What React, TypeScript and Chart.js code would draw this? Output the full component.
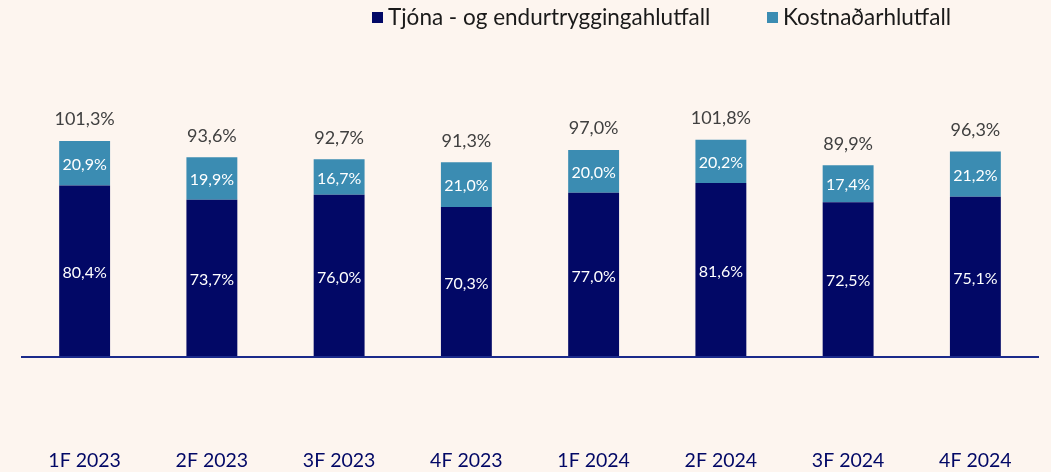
import React, { useEffect, useRef } from "react";
import { Chart, registerables } from "chart.js";

Chart.register(...registerables);

const categories = ["1F 2023", "2F 2023", "3F 2023", "4F 2023", "1F 2024", "2F 2024", "3F 2024", "4F 2024"];
const claimsRatio = [80.4, 73.7, 76.0, 70.3, 77.0, 81.6, 72.5, 75.1];
const costRatio = [20.9, 19.9, 16.7, 21.0, 20.0, 20.2, 17.4, 21.2];
const totalRatio = [101.3, 93.6, 92.7, 91.3, 97.0, 101.8, 89.9, 96.3];
const seriesNames = ["Tjóna - og endurtryggingahlutfall", "Kostnaðarhlutfall"];

const NAVY = "#020866";
const TEAL = "#3B8CB2";
const BG = "#FDF5EF";
const FONT = "Lato, 'Noto Sans', sans-serif";

const fmt = (v: number) => v.toFixed(1).replace(".", ",") + "%";

const axisLinePlugin = {
  id: "axisLine",
  afterDatasetsDraw(chart: any) {
    const { ctx, chartArea } = chart;
    ctx.save();
    ctx.strokeStyle = "#1B2A8A";
    ctx.lineWidth = 2;
    ctx.beginPath();
    ctx.moveTo(chartArea.left, chartArea.bottom);
    ctx.lineTo(chartArea.right, chartArea.bottom);
    ctx.stroke();
    ctx.restore();
  },
};

const labelPlugin = {
  id: "labels",
  afterDatasetsDraw(chart: any) {
    const ctx = chart.ctx;
    ctx.save();
    ctx.textAlign = "center";
    ctx.textBaseline = "middle";
    chart.data.datasets.forEach((ds: any, di: number) => {
      const meta = chart.getDatasetMeta(di);
      meta.data.forEach((bar: any, i: number) => {
        const { x, y, base } = bar.getProps(["x", "y", "base"], true);
        ctx.fillStyle = "#FFFFFF";
        ctx.font = `16px ${FONT}`;
        ctx.fillText(fmt(ds.data[i]), x, (y + base) / 2 + 1.5);
      });
    });
    const topMeta = chart.getDatasetMeta(chart.data.datasets.length - 1);
    topMeta.data.forEach((bar: any, i: number) => {
      const { x, y } = bar.getProps(["x", "y"], true);
      ctx.fillStyle = "#404040";
      ctx.font = `18px ${FONT}`;
      ctx.fillText(fmt(totalRatio[i]), x, y - 21.5);
    });
    // legend
    ctx.textAlign = "left";
    ctx.textBaseline = "alphabetic";
    ctx.font = `22.5px ${FONT}`;
    const items = [
      { x: 372, color: NAVY, text: seriesNames[0] },
      { x: 767, color: TEAL, text: seriesNames[1] },
    ];
    items.forEach((it) => {
      ctx.fillStyle = it.color;
      ctx.fillRect(it.x, 12, 11, 11);
      ctx.fillStyle = "#1A1A1A";
      ctx.fillText(it.text, it.x + 16, 25);
    });
    ctx.restore();
  },
};

export default function App() {
  const ref = useRef<HTMLCanvasElement>(null);
  useEffect(() => {
    document.body.style.margin = "0";
    document.body.style.background = BG;
    const chart = new Chart(ref.current!, {
      type: "bar",
      data: {
        labels: categories,
        datasets: [
          { label: seriesNames[0], data: claimsRatio, backgroundColor: NAVY, barPercentage: 0.4, categoryPercentage: 1 },
          { label: seriesNames[1], data: costRatio, backgroundColor: TEAL, barPercentage: 0.4, categoryPercentage: 1 },
        ],
      },
      options: {
        animation: false,
        responsive: false,
        maintainAspectRatio: false,
        layout: { padding: { top: 101, left: 21, right: 12, bottom: 0 } },
        plugins: { legend: { display: false }, tooltip: { enabled: false } },
        scales: {
          x: {
            stacked: true,
            grid: { display: false, drawTicks: false },
            border: { display: false },
            ticks: { color: NAVY, font: { family: FONT, size: 19.5 }, padding: 92, maxRotation: 0 },
            afterFit: (scale: any) => {
              scale.height = 115;
              scale.paddingLeft = 0;
              scale.paddingRight = 0;
            },
          },
          y: {
            stacked: true,
            display: false,
            min: 0,
            max: 120,
          },
        },
      },
      plugins: [axisLinePlugin, labelPlugin],
    });
    return () => chart.destroy();
  }, []);
  return (
    <div style={{ width: 1051, height: 472, background: BG }}>
      <canvas ref={ref} width={1051} height={472} style={{ display: "block" }} />
    </div>
  );
}
